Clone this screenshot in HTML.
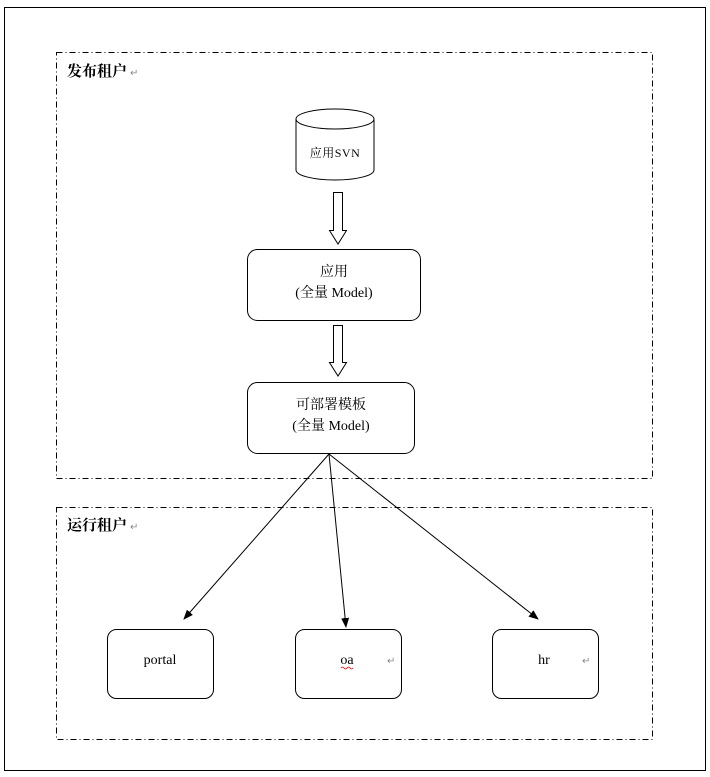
<!DOCTYPE html>
<html><head><meta charset="utf-8"><style>
html,body{margin:0;padding:0;background:#fff;}
svg{display:block;}
text{font-family:"Liberation Serif","Noto Serif CJK SC","Noto Sans CJK SC",serif;fill:#000;}
</style></head><body>
<svg width="710" height="777" viewBox="0 0 710 777" xmlns="http://www.w3.org/2000/svg">
<defs><marker id="ah" markerWidth="10" markerHeight="10" refX="9" refY="5" orient="auto" markerUnits="userSpaceOnUse"><path d="M0,1 L10,5 L0,9 Z" fill="#000"/></marker></defs>
<rect x="4.5" y="7.5" width="701" height="763" fill="none" stroke="#000" stroke-width="1"/>
<rect x="56.5" y="52.5" width="596" height="426" fill="none" stroke="#000" stroke-dasharray="6,3,1,3"/>
<rect x="56.5" y="507.5" width="596" height="232" fill="none" stroke="#000" stroke-dasharray="6,3,1,3"/>
<text x="67" y="76" font-size="15" font-weight="bold" font-family="Liberation Sans,Noto Sans CJK SC,sans-serif">发布租户</text>
<text x="130" y="76" font-size="10" style="fill:#888">↵</text>
<text x="67" y="530" font-size="15" font-weight="bold" font-family="Liberation Sans,Noto Sans CJK SC,sans-serif">运行租户</text>
<text x="130" y="530" font-size="10" style="fill:#888">↵</text>
<path d="M296,119 L296,170 A39,10 0 0 0 374,170 L374,119" fill="#fff" stroke="#000"/>
<ellipse cx="335" cy="119" rx="39" ry="10" fill="#fff" stroke="#000"/>
<text x="335" y="157" font-size="12" text-anchor="middle" letter-spacing="0.5">应用SVN</text>
<path d="M333.5,192.5 H342.5 V230.5 H346.5 L338,244 L329.5,230.5 H333.5 Z" fill="#fff" stroke="#000"/>
<path d="M333.5,325.5 H342.5 V362.5 H346.5 L338,376 L329.5,362.5 H333.5 Z" fill="#fff" stroke="#000"/>
<rect x="247.5" y="249.5" width="173" height="71" rx="10" fill="#fff" stroke="#000"/>
<text x="334" y="276" font-size="14" text-anchor="middle">应用</text>
<text x="334" y="297" font-size="14" text-anchor="middle">(全量 Model)</text>
<rect x="247.5" y="382.5" width="167" height="71" rx="10" fill="#fff" stroke="#000"/>
<text x="331" y="409" font-size="14" text-anchor="middle">可部署模板</text>
<text x="331" y="430" font-size="14" text-anchor="middle">(全量 Model)</text>
<line x1="329" y1="454" x2="184" y2="619" stroke="#000" marker-end="url(#ah)"/>
<line x1="329" y1="454" x2="346" y2="627" stroke="#000" marker-end="url(#ah)"/>
<line x1="329" y1="454" x2="538" y2="619" stroke="#000" marker-end="url(#ah)"/>
<rect x="107.5" y="629.5" width="106" height="69" rx="9" fill="#fff" stroke="#000"/>
<text x="160" y="664" font-size="14" text-anchor="middle">portal</text>
<rect x="295.5" y="629.5" width="106" height="69" rx="9" fill="#fff" stroke="#000"/>
<text x="347" y="664" font-size="14" text-anchor="middle">oa</text>
<path d="M341,668 q1.5,-2 3,0 t3,0 t3,0 t3,0" fill="none" stroke="#e00" stroke-width="0.8"/>
<text x="387" y="664" font-size="10" style="fill:#888">↵</text>
<rect x="492.5" y="629.5" width="106" height="69" rx="9" fill="#fff" stroke="#000"/>
<text x="544" y="664" font-size="14" text-anchor="middle">hr</text>
<text x="582" y="664" font-size="10" style="fill:#888">↵</text>
</svg>
</body></html>
